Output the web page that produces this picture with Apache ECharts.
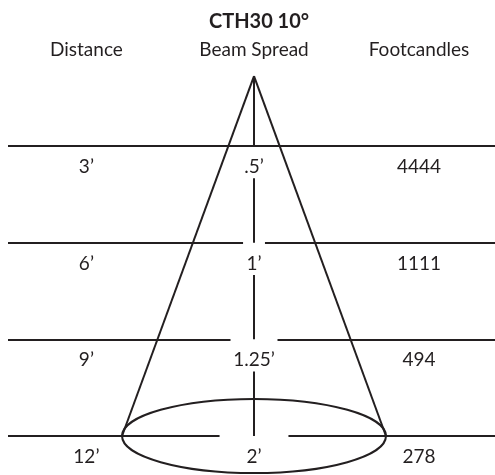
<!DOCTYPE html>
<html>
<head>
<meta charset="utf-8">
<script src="https://cdn.jsdelivr.net/npm/echarts@6/dist/echarts.min.js"></script>
<style>
  html, body { margin: 0; padding: 0; background: #fff; }
  #chart { width: 495px; height: 475px; }
</style>
</head>
<body>
<div id="chart"></div>
<script>
'use strict';

// 数据
var title = 'CTH30 10°';
var headers = ['Distance', 'Beam Spread', 'Footcandles'];
var distances = [3, 6, 9, 12];              // 距离 (ft)
var distanceLabels = ['3’', '6’', '9’', '12’'];
var spreads = [0.5, 1, 1.25, 2];            // 光束直径 (ft)
var spreadLabels = ['.5’', '1’', '1.25’', '2’'];
var footcandles = ['4444', '1111', '494', '278'];

// 示意图布局 (单位: ft)
var apexDist = 0.83;
var gapHalf = [0, 0.083, 0.178, 0.261];
var colX = [-1.27, 0, 1.25];
var xMin = -1.864, xMax = 1.826;
var ink = '#231f20';

var chart = echarts.init(document.getElementById('chart'));

// 横线 + 中心竖线 + 光锥侧边
var segs = [];
distances.forEach(function(d, i) {
    if (gapHalf[i] === 0) {
        segs.push({ coords: [[xMin, d], [xMax, d]] });
    } else {
        segs.push({ coords: [[xMin, d], [-gapHalf[i], d]] });
        segs.push({ coords: [[gapHalf[i], d], [xMax, d]] });
    }
    var from = i === 0 ? apexDist : distances[i - 1] + 1;
    segs.push({ coords: [[0, from], [0, d]] });
});
var last = distances.length - 1;
var baseHalf = spreads[last] / 2;
segs.push({ coords: [[0, apexDist], [-baseHalf, distances[last]]] });
segs.push({ coords: [[0, apexDist], [baseHalf, distances[last]]] });

// 文字
var texts = [];
headers.forEach(function(h, j) {
    texts.push({ value: [colX[j], 0], label: { formatter: h, offset: [0, 1] } });
});
distances.forEach(function(d, i) {
    [distanceLabels[i], spreadLabels[i], footcandles[i]].forEach(function(t, j) {
        texts.push({ value: [colX[j], d], label: { formatter: t, offset: [0, 21] } });
    });
});

var option = {
    animation: false,
    title: {
        text: title,
        left: 254,
        top: 7,
        textAlign: 'center',
        textStyle: { fontFamily: 'Lato', fontSize: 20, fontWeight: 'bold', color: ink }
    },
    grid: { left: 8, right: 0, top: 49.33, bottom: 6.77 },
    xAxis: { type: 'value', min: xMin, max: xMax, show: false },
    yAxis: { type: 'value', min: 0, max: 13, inverse: true, show: false },
    series: [
        {
            type: 'lines',
            coordinateSystem: 'cartesian2d',
            silent: true,
            lineStyle: { color: ink, width: 2, opacity: 1, curveness: 0 },
            data: segs
        },
        {
            type: 'custom',
            silent: true,
            data: [[0, distances[last]]],
            renderItem: function(params, api) {
                var c = api.coord([api.value(0), api.value(1)]);
                var s = api.size([baseHalf, 1.15]);
                return {
                    type: 'ellipse',
                    shape: { cx: c[0], cy: c[1], rx: s[0], ry: s[1] },
                    style: { fill: 'none', stroke: ink, lineWidth: 2 }
                };
            }
        },
        {
            type: 'scatter',
            silent: true,
            symbolSize: 0,
            itemStyle: { opacity: 1 },
            label: {
                show: true,
                position: 'inside',
                fontFamily: 'Lato',
                fontSize: 19,
                color: ink,
                opacity: 1
            },
            data: texts
        }
    ]
};
chart.setOption(option);
</script>
</body>
</html>
